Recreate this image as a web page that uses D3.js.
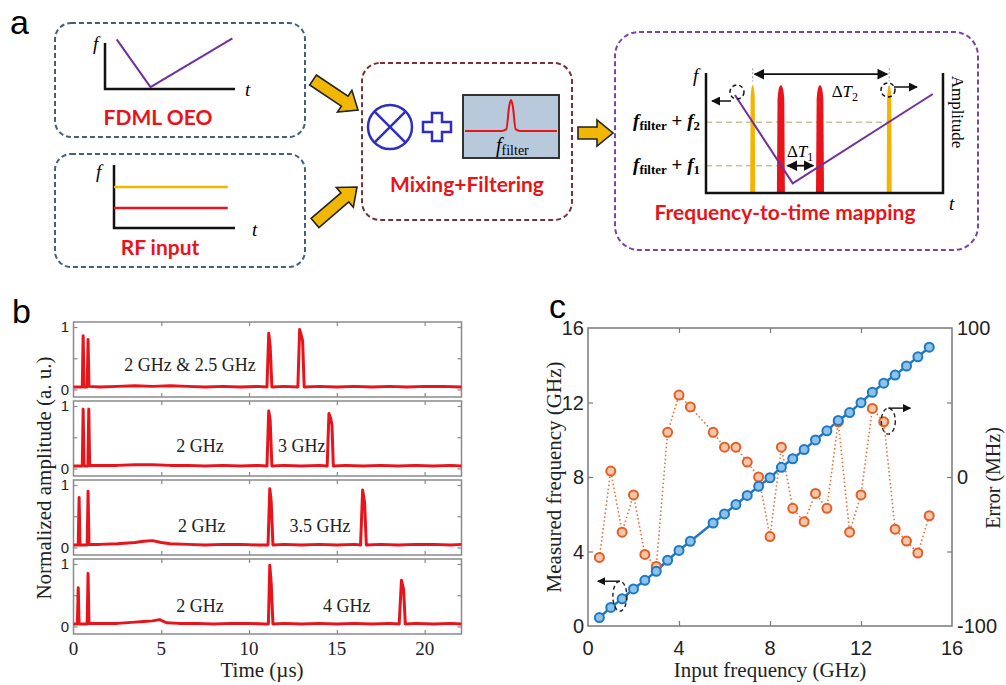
<!DOCTYPE html>
<html>
<head>
<meta charset="utf-8">
<script src="https://cdn.jsdelivr.net/npm/d3@7"></script>
<style>
  body { margin: 0; background: #fff; }
  svg { display: block; }
</style>
</head>
<body>
<div id="fig"></div>
<script>
// ---------- panel b : time-domain traces (time in us, normalized amplitude) ----------
const timeTicks = [0, 5, 10, 15, 20];
const ampTicks = [0, 0.5, 1];
const ampTickLabels = ["0", "", "1"];

const trace1 = [[0,0.04],[0.5,0.04],[0.55,0.86],[0.6,0.04],[0.78,0.04],[0.83,0.8],[0.88,0.05],
  [1.5,0.04],[2.5,0.05],[3.5,0.06],[4.5,0.05],[5.5,0.06],[6.5,0.05],[7.5,0.04],[8.5,0.05],[9.5,0.04],[10.5,0.05],
  [11.02,0.04],[11.12,0.9],[11.2,0.7],[11.3,0.04],[12,0.05],
  [12.78,0.04],[12.88,0.96],[12.98,0.86],[13.05,0.78],[13.14,0.04],
  [14,0.05],[15,0.04],[16,0.05],[17,0.04],[18,0.05],[19,0.04],[20,0.05],[21,0.05],[22.1,0.04]];
const trace2 = [[0,0.04],[0.5,0.04],[0.55,0.95],[0.6,0.04],[0.82,0.04],[0.87,0.95],[0.92,0.05],
  [1.5,0.05],[2.5,0.05],[3.5,0.06],[4.5,0.06],[5.5,0.05],[6.5,0.05],[7.5,0.04],[8.5,0.05],[9.5,0.04],[10.5,0.05],
  [11.02,0.04],[11.12,0.92],[11.2,0.78],[11.3,0.04],[12,0.05],[13,0.04],[14,0.05],
  [14.45,0.04],[14.55,0.88],[14.65,0.8],[14.72,0.7],[14.8,0.04],
  [15.5,0.05],[16.5,0.04],[17.5,0.05],[18.5,0.04],[19.5,0.05],[20.5,0.04],[21.5,0.05],[22.1,0.04]];
const trace3 = [[0,0.04],[0.27,0.04],[0.32,0.8],[0.37,0.04],[0.78,0.04],[0.83,0.9],[0.88,0.05],
  [1.5,0.05],[2.5,0.06],[3.5,0.08],[4,0.1],[4.5,0.11],[5,0.08],[5.5,0.06],[6.5,0.05],[7.5,0.04],[8.5,0.05],[9.5,0.05],[10.5,0.04],
  [11.08,0.04],[11.18,0.94],[11.26,0.74],[11.36,0.04],[12,0.05],[13,0.04],[14,0.05],[15,0.04],[16,0.05],
  [16.35,0.04],[16.47,0.92],[16.58,0.72],[16.68,0.04],
  [17.5,0.05],[18.5,0.04],[19.5,0.05],[20.5,0.05],[21.5,0.04],[22.1,0.05]];
const trace4 = [[0,0.04],[0.22,0.04],[0.27,0.62],[0.32,0.04],[0.78,0.04],[0.83,0.85],[0.88,0.05],
  [1.5,0.05],[2.5,0.05],[3.5,0.07],[4,0.08],[4.5,0.09],[4.9,0.11],[5.3,0.06],[6,0.05],[7,0.05],[8,0.04],[9,0.05],[10,0.05],[10.9,0.04],
  [11.1,0.04],[11.18,0.98],[11.26,0.7],[11.36,0.04],[12,0.05],[13,0.04],[14,0.05],[15,0.04],[16,0.05],[17,0.04],[18,0.05],
  [18.55,0.04],[18.68,0.74],[18.8,0.6],[18.9,0.04],
  [19.5,0.05],[20.5,0.04],[21.5,0.05],[22.1,0.04]];
const traces = [trace1, trace2, trace3, trace4];
// text labels in each subplot: [time, amplitude, text]
const traceNotes = [
  [[6.63, 0.39, "2 GHz & 2.5 GHz"]],
  [[7.2, 0.36, "2 GHz"], [13.0, 0.36, "3 GHz"]],
  [[7.3, 0.35, "2 GHz"], [14.04, 0.35, "3.5 GHz"]],
  [[7.2, 0.33, "2 GHz"], [15.56, 0.33, "4 GHz"]]
];

// ---------- panel c : measured frequency and error ----------
const inputFreq = [0.5,1,1.5,2,2.5,3,3.5,4,4.5,5.5,6,6.5,7,7.5,8,8.5,9,9.5,10,10.5,11,11.5,12,12.5,13,13.5,14,14.5,15];
const measuredFreq = [0.45,1.0,1.46,1.99,2.45,2.94,3.53,4.06,4.55,5.53,6.02,6.52,7.01,7.5,7.96,8.52,8.98,9.47,9.99,10.48,11.04,11.46,11.99,12.55,13.04,13.47,13.96,14.45,14.97];
const errorMHz = [-54,4,-37,-12,-52,-60,30,55,47,30,20,20,10,0,-40,20,-21,-30,-11,-21,37,-37,-12,46,37,-35,-43,-51,-26];
const freqTicks = [0, 4, 8, 12, 16];
const errTicks = [-100, -50, 0, 50, 100];
const errTickLabels = ["-100", "", "0", "", "100"];

// ---------- schematic (panel a), normalized units ----------
const oeoSweep = [[0.09,1.08],[0.35,0.04],[0.98,1.1]];
const rfTones = [{f: 0.65, color: "#f5b400"}, {f: 0.317, color: "#e8141c"}];
const mapSweep = [[0.122,0.817],[0.366,0.08],[0.957,0.825]];
const mapPulses = [{t: 0.197, color: "#f5b400", w: 5}, {t: 0.316, color: "#e8141c", w: 8},
                   {t: 0.481, color: "#e8141c", w: 8}, {t: 0.773, color: "#f5b400", w: 5}];

const W = 1006, H = 685;
const svg = d3.select("#fig").append("svg").attr("width", W).attr("height", H);
const serif = "'Liberation Serif', 'Times New Roman', serif";
const sans = "'Liberation Sans', Arial, sans-serif";
const calib = "Lato, 'Open Sans', sans-serif";
const red = "#e8141c";

svg.append("defs").append("marker")
  .attr("id", "ah").attr("viewBox", "0 0 10 10").attr("refX", 9).attr("refY", 5)
  .attr("markerWidth", 6).attr("markerHeight", 6).attr("orient", "auto-start-reverse")
  .append("path").attr("d", "M0,0 L10,5 L0,10 Z").attr("fill", "#111");

// panel letters
[["a", 10, 34], ["b", 12, 323], ["c", 549, 318]].forEach(d => {
  svg.append("text").attr("x", d[1]).attr("y", d[2]).text(d[0])
    .style("font-family", sans).style("font-size", "34px");
});

// ================= panel a =================
function dashedBox(x, y, w, h, color, r) {
  svg.append("rect").attr("x", x).attr("y", y).attr("width", w).attr("height", h)
    .attr("rx", r).attr("fill", "none").attr("stroke", color)
    .attr("stroke-width", 2).attr("stroke-dasharray", "5,3");
}
function blockArrow(x1, y1, x2, y2) {
  const L = Math.hypot(x2 - x1, y2 - y1), ang = Math.atan2(y2 - y1, x2 - x1) * 180 / Math.PI;
  const pts = [[0,-6],[L-16,-6],[L-16,-13],[L,0],[L-16,13],[L-16,6],[0,6]];
  svg.append("polygon").attr("points", pts.map(p => p.join(",")).join(" "))
    .attr("transform", `translate(${x1},${y1}) rotate(${ang})`)
    .attr("fill", "#f2b705").attr("stroke", "#222").attr("stroke-width", 1.6)
    .attr("stroke-linejoin", "miter");
}
function italic(x, y, s, size) {
  svg.append("text").attr("x", x).attr("y", y).text(s)
    .style("font-family", serif).style("font-style", "italic").style("font-size", size + "px");
}
function redTitle(x, y, s) {
  svg.append("text").attr("x", x).attr("y", y).attr("text-anchor", "middle").text(s)
    .style("font-family", calib).style("font-weight", "bold").style("font-size", "21px").attr("fill", red);
}

dashedBox(55, 23, 250, 114, "#45607f", 16);
dashedBox(55, 154, 250, 113, "#45607f", 16);
dashedBox(362, 63, 210, 157, "#7d2f3a", 18);
dashedBox(615, 32, 363, 218, "#7b45a8", 24);

// box 1 : FDML OEO sweep
const x1s = d3.scaleLinear([0, 1], [105, 235]), y1s = d3.scaleLinear([0, 1], [89, 43]);
svg.append("path").attr("d", `M${x1s(0)},${y1s(1)} V${y1s(0)} H${x1s(1)}`)
  .attr("fill", "none").attr("stroke", "#111").attr("stroke-width", 2.5);
svg.append("path").attr("d", d3.line().x(d => x1s(d[0])).y(d => y1s(d[1]))(oeoSweep))
  .attr("fill", "none").attr("stroke", "#7030a0").attr("stroke-width", 2);
italic(93, 50, "f", 19); italic(245, 96, "t", 19);
redTitle(158, 125, "FDML OEO");

// box 2 : RF input
const x2s = d3.scaleLinear([0, 1], [114, 235]), y2s = d3.scaleLinear([0, 1], [228, 165]);
svg.append("path").attr("d", `M${x2s(0)},${y2s(1)} V${y2s(0)} H${x2s(1)}`)
  .attr("fill", "none").attr("stroke", "#111").attr("stroke-width", 2.5);
rfTones.forEach(d => svg.append("line").attr("x1", x2s(0)).attr("x2", x2s(0.94))
  .attr("y1", y2s(d.f)).attr("y2", y2s(d.f)).attr("stroke", d.color).attr("stroke-width", 2.5));
italic(96, 178, "f", 19); italic(252, 236, "t", 19);
redTitle(160, 255, "RF input");

blockArrow(313, 80, 358, 110);
blockArrow(315, 223, 357, 187);
blockArrow(578, 133, 613, 133);

// box 3 : mixing + filtering
svg.append("circle").attr("cx", 390).attr("cy", 127).attr("r", 22)
  .attr("fill", "none").attr("stroke", "#2f2fbf").attr("stroke-width", 2.5);
[[-1,-1,1,1],[-1,1,1,-1]].forEach(d => svg.append("line")
  .attr("x1", 390 + d[0] * 15.6).attr("y1", 127 + d[1] * 15.6)
  .attr("x2", 390 + d[2] * 15.6).attr("y2", 127 + d[3] * 15.6)
  .attr("stroke", "#2f2fbf").attr("stroke-width", 2.5));
const pc = [437, 127], pa = 14, pt = 5;
svg.append("path").attr("d",
  `M${pc[0]-pt},${pc[1]-pa} h${2*pt} v${pa-pt} h${pa-pt} v${2*pt} h${-(pa-pt)} v${pa-pt} h${-2*pt} v${-(pa-pt)} h${-(pa-pt)} v${-2*pt} h${pa-pt} Z`)
  .attr("fill", "none").attr("stroke", "#2f2fbf").attr("stroke-width", 2.5);
svg.append("rect").attr("x", 463).attr("y", 95).attr("width", 96).attr("height", 63)
  .attr("fill", "#b8c9dc").attr("stroke", "#333").attr("stroke-width", 2);
const filterShape = [[0,0],[0.4,0],[0.45,0.06],[0.48,0.8],[0.5,1],[0.52,0.8],[0.55,0.06],[0.6,0],[1,0]];
const fxs = d3.scaleLinear([0, 1], [465, 557]), fys = d3.scaleLinear([0, 1], [131, 100]);
svg.append("path").attr("d", d3.line().x(d => fxs(d[0])).y(d => fys(d[1])).curve(d3.curveMonotoneX)(filterShape))
  .attr("fill", "none").attr("stroke", red).attr("stroke-width", 2);
const ff = svg.append("text").attr("x", 496).attr("y", 152).style("font-family", serif);
ff.append("tspan").text("f").style("font-style", "italic").style("font-size", "20px");
ff.append("tspan").text("filter").attr("dy", 3).style("font-size", "14px");
redTitle(467, 192, "Mixing+Filtering");

// box 4 : frequency-to-time mapping
const x4s = d3.scaleLinear([0, 1], [706, 943]), y4s = d3.scaleLinear([0, 1], [193, 73]);
const lvl2 = 0.589, lvl1 = 0.2275;
svg.append("line").attr("x1", x4s(0)).attr("x2", x4s(0.773)).attr("y1", y4s(lvl2)).attr("y2", y4s(lvl2))
  .attr("stroke", "#c8c2a0").attr("stroke-width", 1.5).attr("stroke-dasharray", "6,4");
svg.append("line").attr("x1", x4s(0)).attr("x2", x4s(0.481)).attr("y1", y4s(lvl1)).attr("y2", y4s(lvl1))
  .attr("stroke", "#c8c2a0").attr("stroke-width", 1.5).attr("stroke-dasharray", "6,4");
mapPulses.forEach(d => {
  const x = x4s(d.t), y0 = y4s(0), yt = y4s(0.9), w = d.w;
  svg.append("path")
    .attr("d", `M${x-w/2},${y0} L${x-w*0.42},${yt+14} Q${x-w*0.3},${yt} ${x},${yt} Q${x+w*0.3},${yt} ${x+w*0.42},${yt+14} L${x+w/2},${y0} Z`)
    .attr("fill", d.color);
});
svg.append("path").attr("d", d3.line().x(d => x4s(d[0])).y(d => y4s(d[1]))(mapSweep))
  .attr("fill", "none").attr("stroke", "#7030a0").attr("stroke-width", 2);
svg.append("path").attr("d", `M${x4s(0)},${y4s(1)} V${y4s(0)} H${x4s(1)} V${y4s(1)}`)
  .attr("fill", "none").attr("stroke", "#111").attr("stroke-width", 2.5);
// delta T arrows
[[0.197, 0.773, 0.99], [0.336, 0.461, lvl1]].forEach(d => {
  svg.append("line").attr("x1", x4s(d[0]) + 2).attr("x2", x4s(d[1]) - 2).attr("y1", y4s(d[2])).attr("y2", y4s(d[2]))
    .attr("stroke", "#111").attr("stroke-width", 1.8)
    .attr("marker-start", "url(#ah)").attr("marker-end", "url(#ah)");
});
[0.197, 0.773].forEach(t => svg.append("line").attr("x1", x4s(t)).attr("x2", x4s(t))
  .attr("y1", y4s(1.04)).attr("y2", y4s(0.93)).attr("stroke", "#aaa").attr("stroke-width", 1.2)
  .attr("stroke-dasharray", "2,2"));
function deltaT(x, y, sub) {
  const t = svg.append("text").attr("x", x).attr("y", y).attr("text-anchor", "middle")
    .style("font-family", serif).style("font-size", "17px");
  t.append("tspan").text("Δ");
  t.append("tspan").text("T").style("font-style", "italic");
  t.append("tspan").text(sub).attr("dy", 4).style("font-size", "12px");
}
deltaT(x4s(0.586), y4s(0.8), "2");
deltaT(x4s(0.397), y4s(0.3), "1");
function levelLabel(y, sub) {
  const t = svg.append("text").attr("x", 700).attr("y", y).attr("text-anchor", "end")
    .style("font-family", serif).style("font-size", "19px").style("font-weight", "bold");
  t.append("tspan").text("f").style("font-style", "italic");
  t.append("tspan").text("filter").attr("dy", 3).style("font-size", "13px");
  t.append("tspan").text(" + ").attr("dy", -3);
  t.append("tspan").text("f").style("font-style", "italic");
  t.append("tspan").text(sub).attr("dy", 3).style("font-size", "13px");
}
levelLabel(y4s(lvl2) + 5, "2");
levelLabel(y4s(lvl1) + 5, "1");
// dashed circles + arrows marking the sweep ends
[[737, 92, 731, 101, 712, 101], [888, 90, 894, 87, 917, 87]].forEach(d => {
  svg.append("circle").attr("cx", d[0]).attr("cy", d[1]).attr("r", 7).attr("fill", "none")
    .attr("stroke", "#111").attr("stroke-width", 1.5).attr("stroke-dasharray", "4,3");
  svg.append("line").attr("x1", d[2]).attr("y1", d[3]).attr("x2", d[4]).attr("y2", d[5])
    .attr("stroke", "#111").attr("stroke-width", 1.5).attr("marker-end", "url(#ah)");
});
italic(693, 82, "f", 19); italic(949, 210, "t", 19);
svg.append("text").attr("transform", "translate(952,112) rotate(90)").attr("text-anchor", "middle")
  .text("Amplitude").style("font-family", serif).style("font-size", "17px");
redTitle(785, 220, "Frequency-to-time mapping");

// ================= panel b =================
const bx = d3.scaleLinear([0, 22.1], [73.5, 461.5]);
const frameGray = "#8a8a8a";
traces.forEach((tr, i) => {
  const top = 322 + i * 79, bot = top + 75;
  const by = d3.scaleLinear([-0.12, 1.08], [bot, top]);
  const g = svg.append("g");
  g.append("rect").attr("x", bx(0)).attr("y", top).attr("width", bx(22.1) - bx(0)).attr("height", 75)
    .attr("fill", "none").attr("stroke", frameGray).attr("stroke-width", 1.5);
  // inward ticks on all four sides
  g.append("g").attr("transform", `translate(0,${top})`)
    .call(d3.axisBottom(bx).tickValues(timeTicks.slice(1)).tickSize(4).tickFormat(""));
  g.append("g").attr("transform", `translate(0,${bot})`)
    .call(d3.axisTop(bx).tickValues(timeTicks.slice(1)).tickSize(4).tickFormat(""));
  g.append("g").attr("transform", `translate(${bx(0)},0)`)
    .call(d3.axisRight(by).tickValues(ampTicks).tickSize(4).tickFormat(""));
  g.append("g").attr("transform", `translate(${bx(22.1)},0)`)
    .call(d3.axisLeft(by).tickValues(ampTicks).tickSize(4).tickFormat(""));
  g.selectAll(".domain").remove();
  g.selectAll(".tick line").attr("stroke", frameGray).attr("stroke-width", 1.2);
  g.selectAll("text.yl").data(ampTicks.filter((d, k) => ampTickLabels[k] !== "")).join("text")
    .attr("class", "yl").attr("x", 69).attr("y", d => by(d)).attr("dy", "0.36em")
    .attr("text-anchor", "end").text(d => ampTickLabels[ampTicks.indexOf(d)])
    .style("font-family", sans).style("font-size", "15px").attr("fill", "#222");
  g.append("path").datum(tr)
    .attr("d", d3.line().x(d => bx(d[0])).y(d => by(d[1])))
    .attr("fill", "none").attr("stroke", red).attr("stroke-width", 3).attr("stroke-linejoin", "round");
  g.selectAll("text.note").data(traceNotes[i]).join("text").attr("class", "note")
    .attr("x", d => bx(d[0])).attr("y", d => by(d[1])).attr("dy", "0.35em")
    .attr("text-anchor", "middle").text(d => d[2])
    .style("font-family", serif).style("font-size", "18px").attr("fill", "#222");
});
svg.selectAll("text.bxt").data(timeTicks).join("text").attr("class", "bxt")
  .attr("x", d => bx(d)).attr("y", 655).attr("text-anchor", "middle").text(d => d)
  .style("font-family", serif).style("font-size", "19px").attr("fill", "#222");
svg.append("text").attr("x", 262).attr("y", 677).attr("text-anchor", "middle").text("Time (µs)")
  .style("font-family", serif).style("font-size", "21px").attr("fill", "#222");
svg.append("text").attr("transform", "translate(51,478) rotate(-90)").attr("text-anchor", "middle")
  .text("Normalized amplitude (a. u.)").style("font-family", serif).style("font-size", "21px").attr("fill", "#222");

// ================= panel c =================
const cx = d3.scaleLinear([0, 16], [588, 952]);
const cy = d3.scaleLinear([0, 16], [626, 328]);
const ce = d3.scaleLinear([-100, 100], [626, 328]);
const axGray = "#7a7a7a";
const gc = svg.append("g");
gc.append("rect").attr("x", cx(0)).attr("y", cy(16)).attr("width", cx(16) - cx(0)).attr("height", cy(0) - cy(16))
  .attr("fill", "none").attr("stroke", axGray).attr("stroke-width", 1.5);
gc.append("g").attr("transform", `translate(0,${cy(0)})`)
  .call(d3.axisTop(cx).tickValues(freqTicks.slice(1, -1)).tickSize(5).tickFormat(""));
gc.append("g").attr("transform", `translate(0,${cy(16)})`)
  .call(d3.axisBottom(cx).tickValues(freqTicks.slice(1, -1)).tickSize(5).tickFormat(""));
gc.append("g").attr("transform", `translate(${cx(0)},0)`)
  .call(d3.axisRight(cy).tickValues(freqTicks.slice(1, -1)).tickSize(5).tickFormat(""));
gc.append("g").attr("transform", `translate(${cx(16)},0)`)
  .call(d3.axisLeft(ce).tickValues(errTicks.slice(1, -1)).tickSize(5).tickFormat(""));
gc.selectAll(".domain").remove();
gc.selectAll(".tick line").attr("stroke", axGray).attr("stroke-width", 1.2);

gc.selectAll("text.cxl").data(freqTicks).join("text").attr("class", "cxl")
  .attr("x", d => cx(d)).attr("y", 655).attr("text-anchor", "middle").text(d => d)
  .style("font-family", sans).style("font-size", "20px").attr("fill", "#222");
gc.selectAll("text.cyl").data(freqTicks).join("text").attr("class", "cyl")
  .attr("x", 584).attr("y", d => cy(d)).attr("dy", "0.36em").attr("text-anchor", "end").text(d => d)
  .style("font-family", sans).style("font-size", "20px").attr("fill", "#222");
gc.selectAll("text.cel").data(errTicks.filter((d, k) => errTickLabels[k] !== "")).join("text").attr("class", "cel")
  .attr("x", 957).attr("y", d => ce(d)).attr("dy", "0.36em").attr("text-anchor", "start").text(d => d)
  .style("font-family", sans).style("font-size", "20px").attr("fill", "#222");

const measPts = inputFreq.map((v, k) => [v, measuredFreq[k]]);
const errPts = inputFreq.map((v, k) => [v, errorMHz[k]]);
gc.append("path").datum(errPts).attr("d", d3.line().x(d => cx(d[0])).y(d => ce(d[1])))
  .attr("fill", "none").attr("stroke", "#e8703a").attr("stroke-width", 1.6).attr("stroke-dasharray", "1.5,2.5");
gc.append("path").datum(measPts).attr("d", d3.line().x(d => cx(d[0])).y(d => cy(d[1])))
  .attr("fill", "none").attr("stroke", "#1f78c1").attr("stroke-width", 2.5);
gc.selectAll("circle.err").data(errPts).join("circle").attr("class", "err")
  .attr("cx", d => cx(d[0])).attr("cy", d => ce(d[1])).attr("r", 4.5)
  .attr("fill", "#f6c6a6").attr("stroke", "#e0602a").attr("stroke-width", 2);
gc.selectAll("circle.meas").data(measPts).join("circle").attr("class", "meas")
  .attr("cx", d => cx(d[0])).attr("cy", d => cy(d[1])).attr("r", 4.5)
  .attr("fill", "#8cc3ea").attr("stroke", "#1f78c1").attr("stroke-width", 2);

// dashed ellipses pointing to the matching axis
[[1.4, 1.6, 7, 15, -1], [13.2, 11.0, 7, 13, 1]].forEach(d => {
  const ex = cx(d[0]), ey = cy(d[1]);
  gc.append("ellipse").attr("cx", ex).attr("cy", ey).attr("rx", d[2]).attr("ry", d[3])
    .attr("fill", "none").attr("stroke", "#222").attr("stroke-width", 1.4).attr("stroke-dasharray", "4,3");
  gc.append("line").attr("x1", ex).attr("y1", ey - d[3]).attr("x2", ex + d[4] * 22).attr("y2", ey - d[3])
    .attr("stroke", "#111").attr("stroke-width", 1.4).attr("marker-end", "url(#ah)");
});

svg.append("text").attr("x", 770).attr("y", 677).attr("text-anchor", "middle").text("Input frequency (GHz)")
  .style("font-family", serif).style("font-size", "21px").attr("fill", "#222");
svg.append("text").attr("transform", "translate(561,477) rotate(-90)").attr("text-anchor", "middle")
  .text("Measured frequency (GHz)").style("font-family", serif).style("font-size", "21px").attr("fill", "#222");
svg.append("text").attr("transform", "translate(1000,478) rotate(-90)").attr("text-anchor", "middle")
  .text("Error (MHz)").style("font-family", serif).style("font-size", "20px").attr("fill", "#222");
</script>
</body>
</html>
